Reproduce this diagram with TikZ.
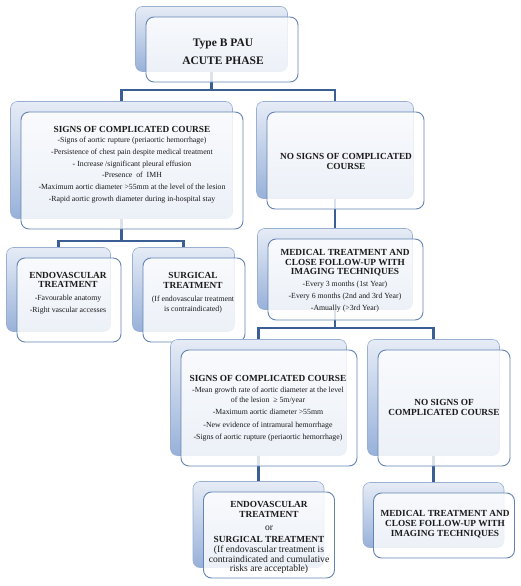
\documentclass[tikz,border=0pt]{standalone}
\usepackage{fontspec}
\setmainfont{Liberation Serif}
\pgfdeclarelayer{bg}
\pgfsetlayers{bg,main}
\definecolor{conncol}{HTML}{3B5F95}
\definecolor{backdraw}{HTML}{9AB0D2}
\definecolor{backtop}{HTML}{E6ECF6}
\definecolor{backbot}{HTML}{98B1D9}
\definecolor{frontdraw}{HTML}{6483B5}
\definecolor{txtcol}{HTML}{1A1A1A}
\newcommand\hdfont{\fontsize{9.3}{10}\selectfont\bfseries}
\newcommand\bdfont{\fontsize{7.8}{9.5}\selectfont}
\begin{document}
\begin{tikzpicture}[x=1pt,y=-1pt,
  backbox/.style={rounded corners=7pt, draw=backdraw, line width=0.6pt,
    top color=backtop, bottom color=backbot,
    inner sep=0pt, outer sep=0pt},
  frontbox/.style={rounded corners=8pt, draw=frontdraw, line width=0.9pt,
    fill=white, fill opacity=0.82, inner sep=0pt, outer sep=0pt},
  txt/.style={align=center, text=txtcol, inner sep=0pt, font=\bdfont},
  conn/.style={draw=conncol, line width=2.2pt}]
\useasboundingbox (0,0) rectangle (520,586);

% top
\node[backbox, minimum width=152pt, minimum height=65pt] (topB) at (211.5,39) {};
\node[frontbox, minimum width=152pt, minimum height=65pt] (topF) at (222,49.5) {};
\node[txt, font=\fontsize{11.5}{18}\selectfont\bfseries] (topT) at (223,51.5) {Type B PAU\\ACUTE PHASE};

% level 1 left
\node[backbox, minimum width=222pt, minimum height=117pt] (L1B) at (121.5,160) {};
\node[frontbox, minimum width=222pt, minimum height=117pt] (L1F) at (132,170.5) {};
\node[txt] (L1T) at (132,164.5) {\hdfont SIGNS OF COMPLICATED COURSE\\[1.2pt]
-Signs of aortic rupture (periaortic hemorrhage)\\[2.2pt]
-Persistence of chest pain despite medical treatment\\[2.2pt]
- Increase /significant pleural effusion\\[2.2pt]
-Presence~ of~ IMH\\[2.2pt]
-Maximum aortic diameter >55mm at the level of the lesion\\[2.2pt]
-Rapid aortic growth diameter during in-hospital stay};

% level 1 right
\node[backbox, minimum width=157pt, minimum height=97pt] (R1B) at (335,150) {};
\node[frontbox, minimum width=157pt, minimum height=97pt] (R1F) at (345.5,160.5) {};
\node[txt, font=\hdfont] (R1T) at (346,161) {NO SIGNS OF COMPLICATED\\COURSE};

% endovascular
\node[backbox, minimum width=104pt, minimum height=84pt] (EnB) at (58.5,289.5) {};
\node[frontbox, minimum width=104pt, minimum height=84pt] (EnF) at (69,300) {};
\node[txt] (EnT) at (68,293.5) {\hdfont ENDOVASCULAR\\\hdfont TREATMENT\\[3.5pt]
-Favourable anatomy\\[2.5pt]
-Right vascular accesses};

% surgical
\node[backbox, minimum width=102pt, minimum height=84pt] (SuB) at (183.5,289.5) {};
\node[frontbox, minimum width=102pt, minimum height=84pt] (SuF) at (194,300) {};
\node[txt] (SuT) at (193,293) {\hdfont SURGICAL\\\hdfont TREATMENT\\[3.5pt]
(If endovascular treatment\\[1pt]
is contraindicated)};

% medical
\node[backbox, minimum width=155pt, minimum height=81pt] (MeB) at (335,269) {};
\node[frontbox, minimum width=155pt, minimum height=81pt] (MeF) at (345.5,279.5) {};
\node[txt] (MeT) at (345,281) {\hdfont MEDICAL TREATMENT AND\\\hdfont CLOSE FOLLOW-UP WITH\\\hdfont IMAGING TECHNIQUES\\[2pt]
-Every 3 months (1st Year)\\[2.5pt]
-Every 6 months (2nd and 3rd Year)\\[2.5pt]
-Amually (>3rd Year)};

% level 2 left
\node[backbox, minimum width=176pt, minimum height=116pt] (L2B) at (258.5,397.5) {};
\node[frontbox, minimum width=176pt, minimum height=116pt] (L2F) at (269,408) {};
\node[txt] (L2T) at (268,408.5) {\hdfont SIGNS OF COMPLICATED COURSE\\[1.5pt]
-Mean growth rate of aortic diameter at the level\\
of the lesion~ ≥ 5m/year\\[3pt]
-Maximum aortic diameter >55mm\\[3pt]
-New evidence of intramural hemorrhage\\[3pt]
-Signs of aortic rupture (periaortic hemorrhage)};

% level 2 right
\node[backbox, minimum width=132pt, minimum height=116pt] (R2B) at (433.5,397.5) {};
\node[frontbox, minimum width=132pt, minimum height=116pt] (R2F) at (444,408) {};
\node[txt, font=\hdfont] (R2T) at (444,407.5) {NO SIGNS OF\\COMPLICATED COURSE};

% bottom left
\node[backbox, minimum width=131pt, minimum height=86pt] (BLB) at (258.5,524.5) {};
\node[frontbox, minimum width=131pt, minimum height=86pt] (BLF) at (269,535) {};
\node[txt, font=\fontsize{9.6}{9.6}\selectfont] (BLT) at (269,537.5) {\hdfont ENDOVASCULAR\\\hdfont TREATMENT\\[3.5pt]
or\\[3pt]
\hdfont SURGICAL TREATMENT\\
(If endovascular treatment is\\
contraindicated and cumulative\\
risks are acceptable)};

% bottom right
\node[backbox, minimum width=141pt, minimum height=65pt] (BRB) at (433.5,515) {};
\node[frontbox, minimum width=141pt, minimum height=65pt] (BRF) at (444,525.5) {};
\node[txt, font=\hdfont] (BRT) at (445,524.5) {MEDICAL TREATMENT AND\\CLOSE FOLLOW-UP WITH\\IMAGING TECHNIQUES};

% connectors
\coordinate (j1) at (211.5,90);
\coordinate (j2) at (121.5,241);
\coordinate (j3) at (335,328);
\begin{pgfonlayer}{bg}
\fill[white] (0,0) rectangle (520,586);
\draw[conn] (topB.center) -- (j1) -| (L1B.north);
\draw[conn] (j1) -| (R1B.north);
\draw[conn] (L1B.center) -- (j2) -| (EnB.north);
\draw[conn] (j2) -| (SuB.north);
\draw[conn] (R1B.center) -- (MeB.north);
\draw[conn] (MeB.center) -- (j3) -| (L2B.north);
\draw[conn] (j3) -| (R2B.north);
\draw[conn] (L2B.center) -- (BLB.north);
\draw[conn] (R2B.center) -- (BRB.north);
\end{pgfonlayer}
\end{tikzpicture}
\end{document}
